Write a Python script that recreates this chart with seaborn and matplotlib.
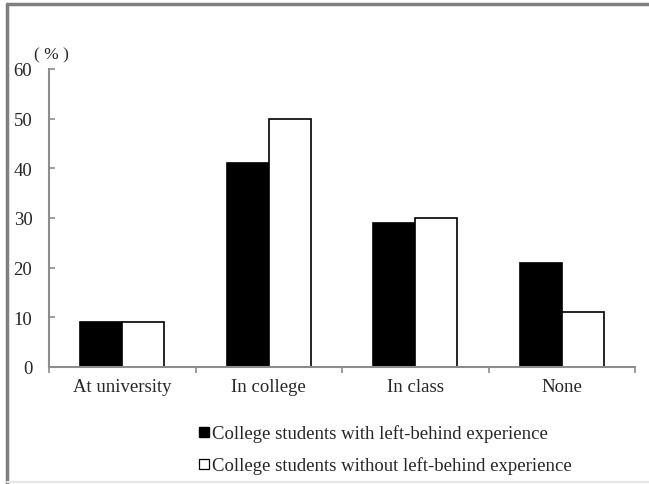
import matplotlib
matplotlib.use("Agg")
import matplotlib.pyplot as plt
from matplotlib.lines import Line2D
import seaborn as sns
import pandas as pd

categories = ["At university", "In college", "In class", "None"]
with_lb = [9, 41, 29, 21]
without_lb = [9, 50, 30, 11]
series_names = ["College students with left-behind experience",
                "College students without left-behind experience"]
y_ticks = [0, 10, 20, 30, 40, 50, 60]

df = pd.DataFrame({
    "category": categories * 2,
    "value": with_lb + without_lb,
    "group": [series_names[0]] * 4 + [series_names[1]] * 4,
})

sns.set_style("white")
plt.rcParams["font.family"] = ["Liberation Serif", "Noto Sans CJK SC"]
FS = 13.5
AX_GRAY = "#8c8c8c"

fig = plt.figure(figsize=(6.49, 4.85), dpi=100)
ax = fig.add_axes([49 / 649, 1 - 368 / 485, (635 - 49) / 649, (368 - 70) / 485])

sns.barplot(data=df, x="category", y="value", hue="group", order=categories,
            hue_order=series_names, palette=["black", "white"], width=0.575,
            edgecolor="black", linewidth=1.2, legend=False, ax=ax)

ax.set_xlim(-0.5, 3.5)
ax.set_ylim(0, 60)
ax.set_yticks(y_ticks)
ax.set_yticklabels([str(v) for v in y_ticks], fontsize=FS)
ax.set_xticks([-0.5, 0.5, 1.5, 2.5, 3.5])
ax.set_xticklabels([])
ax.set_xticks(range(len(categories)), minor=True)
ax.set_xticklabels(categories, minor=True, fontsize=FS)
ax.tick_params(axis="x", which="major", direction="out", length=4, width=1.2,
               color=AX_GRAY, bottom=True)
ax.tick_params(axis="x", which="minor", length=0, pad=8, bottom=True)
ax.tick_params(axis="y", direction="in", length=4, width=1.2, color=AX_GRAY,
               pad=12, left=True)
ax.set_xlabel("")
ax.set_ylabel("")
for side in ["top", "right"]:
    ax.spines[side].set_visible(False)
for side in ["left", "bottom"]:
    ax.spines[side].set_color(AX_GRAY)
    ax.spines[side].set_linewidth(1.5)

fig.text(34 / 649, 1 - 55 / 485, "( % )", fontsize=12.5, va="center", ha="left",
         family="Liberation Serif")

handles = [
    Line2D([], [], marker="s", linestyle="none", markersize=7.5,
           markerfacecolor="black", markeredgecolor="black"),
    Line2D([], [], marker="s", linestyle="none", markersize=7,
           markerfacecolor="white", markeredgecolor="black", markeredgewidth=0.9),
]
fig.legend(handles, series_names, loc="upper left",
           bbox_to_anchor=(190 / 649, 1 - 418 / 485), frameon=False,
           fontsize=FS, handlelength=0.65, handletextpad=0.15,
           labelspacing=0.75, borderaxespad=0)

# outer frame lines along the left and top edges
fig.add_artist(Line2D([7 / 649, 7 / 649], [0, 1 - 5 / 485], transform=fig.transFigure,
                      color="#7f7f7f", linewidth=2.5))
fig.add_artist(Line2D([7 / 649, 1], [1 - 5 / 485, 1 - 5 / 485], transform=fig.transFigure,
                      color="#7f7f7f", linewidth=2.5))
fig.add_artist(Line2D([7 / 649, 1], [2 / 485, 2 / 485], transform=fig.transFigure,
                      color="#e6e6e6", linewidth=1.5))

fig.savefig("out.png", dpi=100)
